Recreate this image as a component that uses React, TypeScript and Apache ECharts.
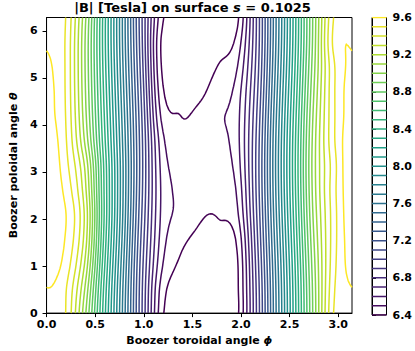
import React, { useEffect, useRef } from "react";
import * as echarts from "echarts";

// |B| sampled on a Boozer grid: phi = j*pi/16 (j=0..16), theta = i*pi/6 (i=0..11, periodic)
const B_THETA_00 = [9.583, 9.5, 9.035, 8.358, 7.681, 7.003, 6.44, 6.32, 6.29, 6.3, 6.38, 6.905, 7.583, 8.26, 8.937, 9.49, 9.583];
const B_THETA_01 = [9.599, 9.511, 9.102, 8.39, 7.698, 7.011, 6.47, 6.35, 6.314, 6.319, 6.385, 6.913, 7.591, 8.268, 8.945, 9.47, 9.599];
const B_THETA_02 = [9.625, 9.56, 9.194, 8.44, 7.73, 7.033, 6.528, 6.385, 6.345, 6.34, 6.392, 6.935, 7.613, 8.29, 8.967, 9.45, 9.625];
const B_THETA_03 = [9.64, 9.592, 9.263, 8.485, 7.766, 7.063, 6.566, 6.43, 6.38, 6.368, 6.425, 6.965, 7.643, 8.32, 8.997, 9.44, 9.64];
const B_THETA_04 = [9.655, 9.604, 9.286, 8.512, 7.795, 7.093, 6.588, 6.476, 6.411, 6.406, 6.485, 6.995, 7.673, 8.35, 9.027, 9.44, 9.655];
const B_THETA_05 = [9.66, 9.57, 9.24, 8.507, 7.807, 7.115, 6.593, 6.477, 6.428, 6.433, 6.521, 7.017, 7.695, 8.372, 9.049, 9.45, 9.66];
const B_THETA_06 = [9.67, 9.535, 9.19, 8.492, 7.806, 7.123, 6.579, 6.461, 6.433, 6.453, 6.554, 7.025, 7.703, 8.38, 9.057, 9.443, 9.67];
const B_THETA_07 = [9.65, 9.513, 9.091, 8.448, 7.785, 7.115, 6.551, 6.425, 6.43, 6.47, 6.572, 7.017, 7.695, 8.372, 9.049, 9.47, 9.65];
const B_THETA_08 = [9.63, 9.499, 9.045, 8.416, 7.759, 7.093, 6.49, 6.401, 6.42, 6.485, 6.571, 6.995, 7.673, 8.35, 9.027, 9.47, 9.63];
const B_THETA_09 = [9.625, 9.492, 9.022, 8.389, 7.73, 7.063, 6.44, 6.37, 6.38, 6.45, 6.549, 6.965, 7.643, 8.32, 8.997, 9.47, 9.625];
const B_THETA_10 = [9.612, 9.49, 9.01, 8.366, 7.703, 7.033, 6.405, 6.348, 6.346, 6.405, 6.5, 6.935, 7.613, 8.29, 8.967, 9.47, 9.612];
const B_THETA_11 = [9.594, 9.49, 9.01, 8.353, 7.684, 7.011, 6.395, 6.325, 6.315, 6.35, 6.44, 6.913, 7.591, 8.268, 8.945, 9.51, 9.594];

const B_ROWS = [
  B_THETA_00, B_THETA_01, B_THETA_02, B_THETA_03, B_THETA_04, B_THETA_05,
  B_THETA_06, B_THETA_07, B_THETA_08, B_THETA_09, B_THETA_10, B_THETA_11,
];

const LEVELS = [
  6.4, 6.5, 6.6, 6.7, 6.8, 6.9, 7.0, 7.1, 7.2, 7.3, 7.4, 7.5, 7.6, 7.7, 7.8, 7.9, 8.0,
  8.1, 8.2, 8.3, 8.4, 8.5, 8.6, 8.7, 8.8, 8.9, 9.0, 9.1, 9.2, 9.3, 9.4, 9.5, 9.6,
];

const VIRIDIS = ["#440154", "#482878", "#3e4989", "#31688e", "#26828e", "#1f9e89", "#35b779", "#6ece58", "#b5de2b", "#fde725"];

const FONT = "DejaVu Sans";

function hexToRgb(h: string) {
  return [parseInt(h.slice(1, 3), 16), parseInt(h.slice(3, 5), 16), parseInt(h.slice(5, 7), 16)];
}
function viridis(t: number) {
  const x = Math.max(0, Math.min(1, t)) * (VIRIDIS.length - 1);
  const k = Math.min(VIRIDIS.length - 2, Math.floor(x));
  const f = x - k;
  const a = hexToRgb(VIRIDIS[k]);
  const b = hexToRgb(VIRIDIS[k + 1]);
  const c = a.map((v, n) => Math.round(v + (b[n] - v) * f));
  return `rgb(${c[0]},${c[1]},${c[2]})`;
}

const NJ = B_ROWS[0].length - 1;
const NI = B_ROWS.length;

function nodeVal(j: number, i: number) {
  let ii = ((i % NI) + NI) % NI;
  if (j < 0) {
    j = -j;
    ii = (NI - ii) % NI;
  } else if (j > NJ) {
    j = 2 * NJ - j;
    ii = (NI - ii) % NI;
  }
  return B_ROWS[ii][j];
}
function cr(p0: number, p1: number, p2: number, p3: number, t: number) {
  return 0.5 * (2 * p1 + (-p0 + p2) * t + (2 * p0 - 5 * p1 + 4 * p2 - p3) * t * t + (-p0 + 3 * p1 - 3 * p2 + p3) * t * t * t);
}
function field(phi: number, theta: number) {
  const u = phi / (Math.PI / NJ);
  let j = Math.floor(u);
  if (j >= NJ) j = NJ - 1;
  const t = u - j;
  const v = theta / ((2 * Math.PI) / NI);
  let i = Math.floor(v);
  if (i >= NI) i = NI - 1;
  const s = v - i;
  const col: number[] = [];
  for (let di = -1; di <= 2; di++) {
    col.push(cr(nodeVal(j - 1, i + di), nodeVal(j, i + di), nodeVal(j + 1, i + di), nodeVal(j + 2, i + di), t));
  }
  return cr(col[0], col[1], col[2], col[3], s);
}

function contour(F: number[][], xs: number[], ys: number[], level: number) {
  const nx = xs.length;
  const ny = ys.length;
  const pts = new Map<number, number[]>();
  const adj = new Map<number, number[]>();
  const link = (a: number, b: number) => {
    if (!adj.has(a)) adj.set(a, []);
    if (!adj.has(b)) adj.set(b, []);
    adj.get(a)!.push(b);
    adj.get(b)!.push(a);
  };
  const pt = (id: number, x1: number, y1: number, v1: number, x2: number, y2: number, v2: number) => {
    if (!pts.has(id)) {
      const t = (level - v1) / (v2 - v1);
      pts.set(id, [x1 + t * (x2 - x1), y1 + t * (y2 - y1)]);
    }
  };
  const hId = (ix: number, iy: number) => (iy * nx + ix) * 2;
  const vId = (ix: number, iy: number) => (iy * nx + ix) * 2 + 1;
  for (let iy = 0; iy < ny - 1; iy++) {
    for (let ix = 0; ix < nx - 1; ix++) {
      const a = F[iy][ix], b = F[iy][ix + 1], c = F[iy + 1][ix + 1], d = F[iy + 1][ix];
      const A = a >= level, B = b >= level, C = c >= level, D = d >= level;
      let eb = -1, er = -1, et = -1, el = -1;
      let n = 0;
      if (A !== B) { eb = hId(ix, iy); pt(eb, xs[ix], ys[iy], a, xs[ix + 1], ys[iy], b); n++; }
      if (B !== C) { er = vId(ix + 1, iy); pt(er, xs[ix + 1], ys[iy], b, xs[ix + 1], ys[iy + 1], c); n++; }
      if (D !== C) { et = hId(ix, iy + 1); pt(et, xs[ix], ys[iy + 1], d, xs[ix + 1], ys[iy + 1], c); n++; }
      if (A !== D) { el = vId(ix, iy); pt(el, xs[ix], ys[iy], a, xs[ix], ys[iy + 1], d); n++; }
      if (n === 2) {
        const e = [eb, er, et, el].filter((q) => q >= 0);
        link(e[0], e[1]);
      } else if (n === 4) {
        const center = (a + b + c + d) / 4 >= level;
        if (center === A) { link(eb, er); link(et, el); }
        else { link(eb, el); link(er, et); }
      }
    }
  }
  const visited = new Set<number>();
  const chains: number[][][] = [];
  const walk = (start: number) => {
    const chain = [start];
    visited.add(start);
    let cur = start;
    for (;;) {
      const nb = adj.get(cur)!;
      let next = -1;
      for (const q of nb) if (!visited.has(q)) { next = q; break; }
      if (next < 0) break;
      visited.add(next);
      chain.push(next);
      cur = next;
    }
    if (chain.length > 2 && adj.get(cur)!.includes(start)) chain.push(start);
    chains.push(chain.map((id) => pts.get(id)!));
  };
  adj.forEach((nb, id) => { if (nb.length === 1 && !visited.has(id)) walk(id); });
  adj.forEach((_nb, id) => { if (!visited.has(id)) walk(id); });
  return chains;
}

function buildContourData() {
  const NX = 161, NY = 241;
  const xs: number[] = [];
  const ys: number[] = [];
  for (let k = 0; k < NX; k++) xs.push((Math.PI * k) / (NX - 1));
  for (let k = 0; k < NY; k++) ys.push((2 * Math.PI * k) / (NY - 1));
  const F: number[][] = ys.map((th) => xs.map((ph) => field(ph, th)));
  const lo = LEVELS[0];
  const hi = LEVELS[LEVELS.length - 1];
  const data: any[] = [];
  LEVELS.forEach((L) => {
    const color = viridis((L - lo) / (hi - lo));
    contour(F, xs, ys, L).forEach((coords) => {
      if (coords.length >= 2) data.push({ coords, lineStyle: { color } });
    });
  });
  return data;
}

const tickFont = { fontFamily: FONT, fontWeight: "bold" as const, fontSize: 11, color: "#000" };

export default function App() {
  const ref = useRef<HTMLDivElement>(null);
  useEffect(() => {
    if (!ref.current) return;
    const chart = echarts.init(ref.current, undefined, { renderer: "svg" });
    const lo = LEVELS[0];
    const hi = LEVELS[LEVELS.length - 1];
    const option: any = {
      animation: false,
      backgroundColor: "#fff",
      graphic: [
        {
          type: "text",
          x: 192.5,
          y: 7,
          style: {
            text: "|B| [Tesla] on surface {i|s} = 0.1025",
            textAlign: "center",
            textVerticalAlign: "middle",
            fontFamily: FONT,
            fontWeight: "bold",
            fontSize: 13,
            fill: "#000",
            rich: { i: { fontFamily: FONT, fontWeight: "bold", fontStyle: "italic", fontSize: 13, fill: "#000" } },
          },
        },
      ],
      grid: [
        { left: 33, top: 17.5, width: 319, height: 297.5, show: true, borderColor: "#000", borderWidth: 1 },
        { left: 372, top: 17.5, width: 15, height: 297.5, show: true, borderColor: "#000", borderWidth: 1 },
      ],
      xAxis: [
        {
          type: "value",
          gridIndex: 0,
          min: 0,
          max: Math.PI,
          interval: 0.5,
          axisLine: { show: true, onZero: false, lineStyle: { color: "#000", width: 1 } },
          axisTick: { show: true, length: 4, lineStyle: { color: "#000", width: 1 } },
          axisLabel: { ...tickFont, margin: 6, showMaxLabel: false, formatter: (v: number) => v.toFixed(1) },
          splitLine: { show: false },
          name: "Boozer toroidal angle {i|ϕ}",
          nameLocation: "middle",
          nameGap: 21,
          nameTextStyle: { ...tickFont, rich: { i: { ...tickFont, fontStyle: "italic" } } },
        },
        { type: "value", gridIndex: 1, min: 0, max: 1, show: false },
      ],
      yAxis: [
        {
          type: "value",
          gridIndex: 0,
          min: 0,
          max: 2 * Math.PI,
          interval: 1,
          axisLine: { show: true, onZero: false, lineStyle: { color: "#000", width: 1 } },
          axisTick: { show: true, length: 4, lineStyle: { color: "#000", width: 1 } },
          axisLabel: { ...tickFont, margin: 9, showMaxLabel: false, formatter: (v: number) => v.toFixed(0) },
          splitLine: { show: false },
          name: "Boozer poloidal angle {i|θ}",
          nameLocation: "middle",
          nameRotate: 90,
          nameGap: 21,
          nameTextStyle: { ...tickFont, rich: { i: { ...tickFont, fontStyle: "italic" } } },
        },
        {
          type: "value",
          gridIndex: 1,
          position: "right",
          min: lo,
          max: hi,
          interval: 0.4,
          axisLine: { show: true, lineStyle: { color: "#000", width: 1 } },
          axisTick: { show: true, length: 4, lineStyle: { color: "#000", width: 1 } },
          axisLabel: { ...tickFont, margin: 6, formatter: (v: number) => v.toFixed(1) },
          splitLine: { show: false },
        },
      ],
      series: [
        {
          type: "lines",
          coordinateSystem: "cartesian2d",
          xAxisIndex: 0,
          yAxisIndex: 0,
          polyline: true,
          silent: true,
          lineStyle: { width: 1.5, opacity: 1 },
          data: buildContourData(),
        },
        {
          type: "lines",
          coordinateSystem: "cartesian2d",
          xAxisIndex: 1,
          yAxisIndex: 1,
          polyline: true,
          silent: true,
          lineStyle: { width: 1.5, opacity: 1 },
          data: LEVELS.map((L) => ({ coords: [[0, L], [1, L]], lineStyle: { color: viridis((L - lo) / (hi - lo)) } })),
        },
      ],
    };
    chart.setOption(option);
    return () => chart.dispose();
  }, []);
  return <div ref={ref} style={{ position: "fixed", left: 0, top: 0, width: 415, height: 351 }} />;
}
